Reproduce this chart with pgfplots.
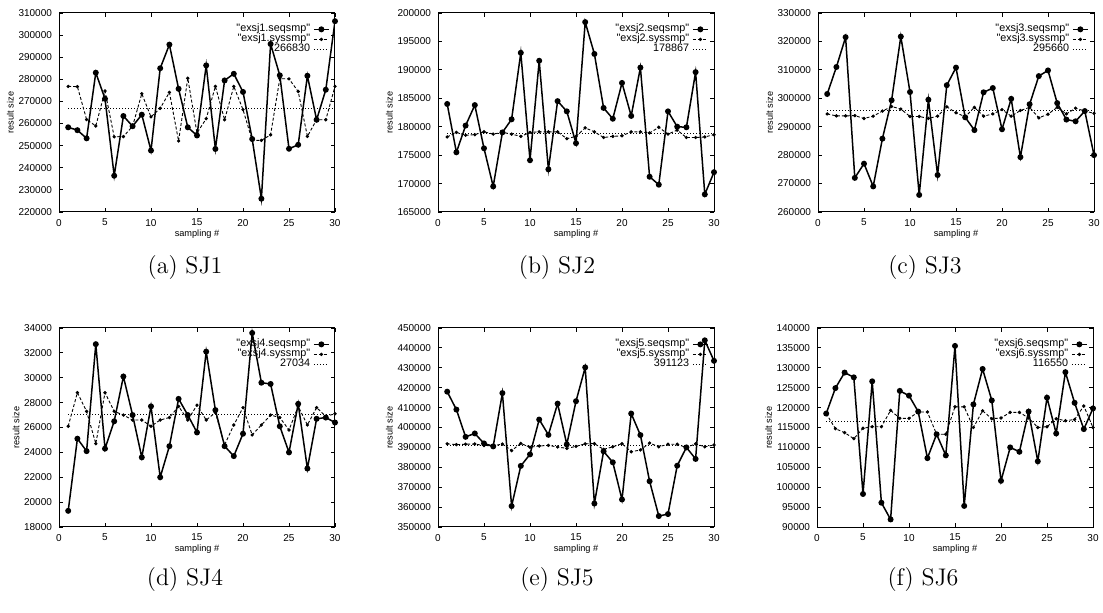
\documentclass[border=0pt]{standalone}
\usepackage{fontspec}
\newfontfamily\gp{Liberation Sans}
\usepackage{pgfplots}
\usepackage{pgfplotstable}
\pgfplotsset{compat=1.18}

\pgfplotsset{
  gp/.style={scale only axis,width=138pt,height=99.5pt,anchor=north west,
    xmin=0,xmax=30,xtick={0,5,...,30},
    axis line style={line width=0.5pt},every tick/.style={black,line width=0.4pt},major tick length=2pt,
    tick label style={font=\gp\fontsize{5}{6}\selectfont},label style={font=\gp\fontsize{4.6}{5}\selectfont},
    xlabel={sampling \#},ylabel={result size},
    xlabel style={yshift=5pt},ylabel style={yshift=-4.5pt},
    scaled y ticks=false,yticklabel style={/pgf/number format/fixed,/pgf/number format/1000 sep={}},
    /pgf/number format/assume math mode=true,
    legend style={draw=none,fill=none,font=\gp\fontsize{5.4}{6}\selectfont,at={(0.982,0.95)},anchor=north east,
      inner sep=0pt,row sep=-1pt,nodes={inner sep=0.3pt},column sep=1.2pt},
    legend cell align=right,legend plot pos=right,
    legend image code/.code={\draw[mark repeat=2,mark phase=2,##1] plot coordinates {(0pt,0pt) (3.75pt,0pt) (7.5pt,0pt)};}},
  seq/.style={black,line width=0.75pt,mark=*,mark size=1.1pt},
  sys/.style={black,line width=0.45pt,dash pattern=on 1.5pt off 1pt,mark=*,mark size=0.6pt,mark options={solid}},
  cst/.style={black,line width=0.45pt,dash pattern=on 0.5pt off 1pt}
}

% columns: sampling #, seqsmp, syssmp
\pgfplotstableread{
x seq sys
1 258300 276800
2 257000 276700
3 253300 261800
4 283000 258900
5 271200 274700
6 236400 254000
7 263400 254100
8 258800 258800
9 264000 273500
10 247800 263000
11 285000 266900
12 295700 274100
13 275700 252100
14 258300 280500
15 254600 255700
16 286300 262200
17 248500 276800
18 279500 261700
19 282500 276800
20 274300 266300
21 253000 252400
22 226000 252400
23 296000 254900
24 281800 280300
25 248600 280200
26 250400 274500
27 281600 254200
28 261700 261700
29 275300 261700
30 306300 276800
}\sja
\pgfplotstableread{
x seq sys
1 184000 178200
2 175500 179000
3 180200 178500
4 183800 178600
5 176200 179100
6 169500 178700
7 179000 179000
8 181300 178700
9 193000 178300
10 174100 179000
11 191600 179100
12 172500 179100
13 184500 179100
14 182700 177900
15 177100 178300
16 198400 179800
17 192800 179100
18 183300 178100
19 181400 178300
20 187700 178400
21 181900 179100
22 190400 179100
23 171200 178900
24 169800 179900
25 182700 178700
26 180000 179400
27 179900 178100
28 189600 178100
29 168100 178200
30 172000 178600
}\sjb
\pgfplotstableread{
x seq sys
1 301500 294500
2 311000 293800
3 321500 293800
4 272000 293900
5 277000 292900
6 269000 293700
7 285800 295500
8 299300 297100
9 321700 296200
10 302200 293600
11 266000 293600
12 299500 292900
13 273000 293700
14 304600 297000
15 310800 294900
16 293300 293500
17 288800 296800
18 302100 293700
19 303600 294500
20 289100 296000
21 299800 293700
22 279300 295700
23 297900 296800
24 307800 293100
25 309800 294400
26 298300 296800
27 292500 294500
28 291900 296500
29 295500 295500
30 280000 294700
}\sjc
\pgfplotstableread{
x seq sys
1 19300 26100
2 25100 28800
3 24100 27300
4 32700 24700
5 24300 28800
6 26500 27300
7 30100 27000
8 27000 26600
9 23600 26600
10 27700 26100
11 22000 26600
12 24500 26800
13 28300 27700
14 27000 26600
15 25600 27800
16 32100 26600
17 27400 27200
18 24500 24600
19 23700 26200
20 25500 27600
21 33600 25400
22 29600 26200
23 29500 27000
24 26100 26800
25 24000 25800
26 27900 27700
27 22700 26200
28 26700 27600
29 26800 26900
30 26400 27100
}\sjd
\pgfplotstableread{
x seq sys
1 418000 391800
2 409000 391400
3 395300 391600
4 397000 391700
5 392000 390900
6 390500 390800
7 417300 391700
8 360500 388400
9 380700 392000
10 386500 390100
11 404000 390700
12 396300 391000
13 412000 390200
14 391500 389500
15 413200 390500
16 430200 391800
17 361800 391900
18 388000 389000
19 382500 390300
20 363800 391900
21 407000 387800
22 396200 388700
23 373000 392200
24 355500 390300
25 356500 391600
26 380800 391600
27 390000 389900
28 384200 391800
29 443800 390300
30 433500 391200
}\sje
\pgfplotstableread{
x seq sys
1 118500 118500
2 124900 114700
3 128800 113700
4 127600 112200
5 98300 114800
6 126600 115200
7 96100 115200
8 91900 119300
9 124200 117300
10 123000 117300
11 119000 118900
12 107300 118900
13 113300 113300
14 108000 113300
15 135500 120200
16 95300 120200
17 120800 115000
18 129700 119200
19 121800 117200
20 101600 117400
21 110000 118800
22 108900 118800
23 119000 117400
24 106500 115000
25 122500 115200
26 113500 117200
27 128900 116700
28 121200 117000
29 114600 120400
30 119800 115000
}\sjf

\begin{document}
\begin{tikzpicture}
\path[use as bounding box] (0,0) rectangle (551.5pt,-306.5pt);

\begin{axis}[gp,at={(29.5pt,-6.5pt)},ymin=220000,ymax=310000,ytick={220000,230000,...,310000}]
\addplot[seq] table[x=x,y=seq]{\sja}; \addlegendentry{"exsj1.seqsmp"}
\addplot[sys] table[x=x,y=sys]{\sja}; \addlegendentry{"exsj1.syssmp"}
\addplot[cst] coordinates {(1,266830) (30,266830)}; \addlegendentry{266830}
\end{axis}

\begin{axis}[gp,at={(219pt,-6.5pt)},ymin=165000,ymax=200000,ytick={165000,170000,...,200000}]
\addplot[seq] table[x=x,y=seq]{\sjb}; \addlegendentry{"exsj2.seqsmp"}
\addplot[sys] table[x=x,y=sys]{\sjb}; \addlegendentry{"exsj2.syssmp"}
\addplot[cst] coordinates {(1,178867) (30,178867)}; \addlegendentry{178867}
\end{axis}

\begin{axis}[gp,at={(409pt,-6.5pt)},ymin=260000,ymax=330000,ytick={260000,270000,...,330000}]
\addplot[seq] table[x=x,y=seq]{\sjc}; \addlegendentry{"exsj3.seqsmp"}
\addplot[sys] table[x=x,y=sys]{\sjc}; \addlegendentry{"exsj3.syssmp"}
\addplot[cst] coordinates {(1,295660) (30,295660)}; \addlegendentry{295660}
\end{axis}

\begin{axis}[gp,at={(29.5pt,-164pt)},ymin=18000,ymax=34000,ytick={18000,20000,...,34000}]
\addplot[seq] table[x=x,y=seq]{\sjd}; \addlegendentry{"exsj4.seqsmp"}
\addplot[sys] table[x=x,y=sys]{\sjd}; \addlegendentry{"exsj4.syssmp"}
\addplot[cst] coordinates {(1,27034) (30,27034)}; \addlegendentry{27034}
\end{axis}

\begin{axis}[gp,at={(219pt,-164pt)},ymin=350000,ymax=450000,ytick={350000,360000,...,450000}]
\addplot[seq] table[x=x,y=seq]{\sje}; \addlegendentry{"exsj5.seqsmp"}
\addplot[sys] table[x=x,y=sys]{\sje}; \addlegendentry{"exsj5.syssmp"}
\addplot[cst] coordinates {(1,391123) (30,391123)}; \addlegendentry{391123}
\end{axis}

\begin{axis}[gp,at={(408.5pt,-164pt)},ymin=90000,ymax=140000,ytick={90000,95000,...,140000}]
\addplot[seq] table[x=x,y=seq]{\sjf}; \addlegendentry{"exsj6.seqsmp"}
\addplot[sys] table[x=x,y=sys]{\sjf}; \addlegendentry{"exsj6.syssmp"}
\addplot[cst] coordinates {(1,116550) (30,116550)}; \addlegendentry{116550}
\end{axis}

\begin{scope}[every node/.style={font=\fontsize{12}{14}\selectfont}]
\node at (92.5pt,-134pt) {(a) SJ1};
\node at (278.5pt,-134pt) {(b) SJ2};
\node at (462.5pt,-134pt) {(c) SJ3};
\node at (92.5pt,-290pt) {(d) SJ4};
\node at (278.5pt,-290pt) {(e) SJ5};
\node at (461.5pt,-290pt) {(f) SJ6};
\end{scope}
\end{tikzpicture}
\end{document}
